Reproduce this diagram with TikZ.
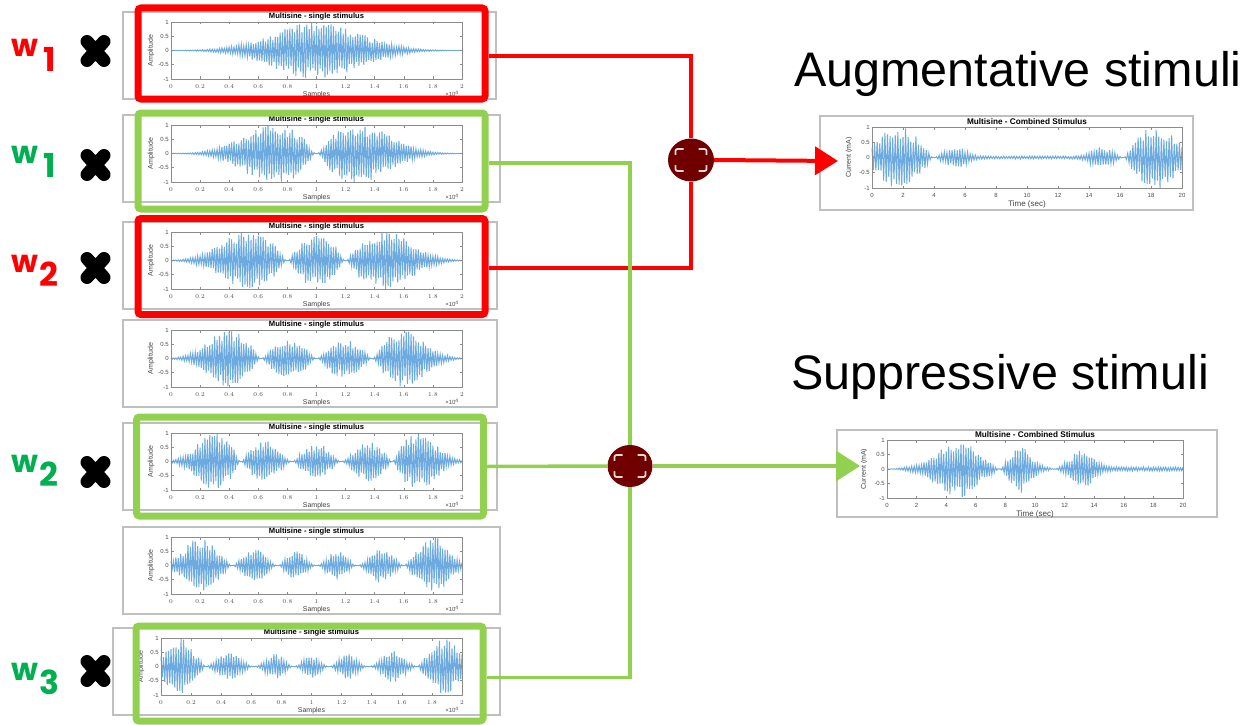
\documentclass[tikz,border=0pt]{standalone}
\usepackage{fontspec}
\setmainfont{Liberation Sans}
\newfontfamily\wfont{Poppins}
\usetikzlibrary{shapes.geometric, arrows.meta}

\begin{document}
\begin{tikzpicture}
	[x=1pt, y=-1pt,
	%Styles
	declare function={bump(\t,\c,\s)=exp(-min(((\t/120-\c)/\s)^2,12));
		notch(\t,\c,\s)=1-bump(\t,\c,\s);
		jitter(\t)=(0.6+0.4*rnd)*cos(180*mod(\t,2));},
	figure frame/.style={draw=black!25, line width=1.1pt},
	axes box/.style={draw=black!45, line width=0.6pt},
	signal/.style={draw=signalcolor, line width=1pt},
	tick label/.style={font=\fontsize{6}{6}\selectfont, text=black!70, inner sep=0.5pt},
	axis label/.style={font=\fontsize{7}{7}\selectfont, text=black!75, inner sep=0pt},
	plot title/.style={font=\fontsize{7.6}{7.6}\selectfont\bfseries, inner sep=0pt},
	red box/.style={draw=boxred, line width=7pt, rounded corners=3pt, minimum width=347pt, inner sep=0pt},
	green box/.style={draw=boxgreen, line width=7pt, rounded corners=3pt, minimum width=347pt, inner sep=0pt},
	red wire/.style={draw=boxred, line width=4pt},
	green wire/.style={draw=boxgreen, line width=3.5pt},
	sum node/.style={ellipse, fill=sumcolor, minimum width=46pt, minimum height=43pt, inner sep=0pt},
	weight/.style={font=\wfont\bfseries\fontsize{31}{31}\selectfont, inner sep=0pt, anchor=base west},
	times mark/.style={line width=13pt, line cap=round},
	heading/.style={font=\fontsize{48.5}{48.5}\selectfont, inner sep=0pt, anchor=base west}
	]
	
	%Colors
	\definecolor{boxred}{RGB}{255,0,0}
	\definecolor{boxgreen}{RGB}{146,208,80}
	\definecolor{textgreen}{RGB}{0,176,80}
	\definecolor{sumcolor}{RGB}{112,0,0}
	\definecolor{signalcolor}{RGB}{108,170,223}
	
	\useasboundingbox (0,0) rectangle (1253,725);
	\pgfmathsetseed{7}
	
	%Single stimulus plots (\x is the sample index, 120 samples per unit)
	\foreach \ftop/\fleft/\fright/\env in {
		12/123/496/{bump(\x,1,0.42)},
		115/123/500/{(bump(\x,0.7,0.3)+bump(\x,1.3,0.3))*notch(\x,1,0.08)},
		222/123/497/{(bump(\x,0.52,0.25)+0.85*bump(\x,1,0.2)+bump(\x,1.48,0.25))*notch(\x,0.8,0.06)*notch(\x,1.2,0.06)},
		320/123/497/{(bump(\x,0.4,0.2)+0.65*bump(\x,0.82,0.15)+0.65*bump(\x,1.18,0.15)+bump(\x,1.6,0.2))*notch(\x,0.62,0.05)*notch(\x,1,0.05)*notch(\x,1.38,0.05)},
		423/123/497/{(bump(\x,0.3,0.17)+0.7*bump(\x,0.65,0.12)+0.65*bump(\x,1,0.12)+0.7*bump(\x,1.35,0.12)+bump(\x,1.7,0.17))*notch(\x,0.48,0.04)*notch(\x,0.83,0.04)*notch(\x,1.17,0.04)*notch(\x,1.52,0.04)},
		527/123/500/{(bump(\x,0.2,0.15)+0.6*bump(\x,0.58,0.1)+0.5*bump(\x,0.86,0.09)+0.5*bump(\x,1.14,0.09)+0.6*bump(\x,1.44,0.1)+bump(\x,1.8,0.15))*notch(\x,0.42,0.035)*notch(\x,0.73,0.035)*notch(\x,1,0.035)*notch(\x,1.28,0.035)*notch(\x,1.6,0.035)},
		628/113/500/{(bump(\x,0.12,0.13)+0.55*bump(\x,0.46,0.09)+0.45*bump(\x,0.76,0.08)+0.4*bump(\x,1,0.07)+0.45*bump(\x,1.24,0.08)+0.55*bump(\x,1.54,0.09)+bump(\x,1.88,0.13))*notch(\x,0.3,0.03)*notch(\x,0.62,0.03)*notch(\x,0.88,0.03)*notch(\x,1.12,0.03)*notch(\x,1.38,0.03)*notch(\x,1.7,0.03)}}
	{
		\pgfmathsetmacro{\axl}{\fleft+48}
		\pgfmathsetmacro{\axw}{(462-\axl)/2}
		\pgfmathsetmacro{\axm}{\ftop+38.5}
		\draw[figure frame] (\fleft,\ftop) rectangle (\fright,\ftop+87);
		\draw[signal] plot[domain=0:240, samples=241] ({\axl+\x/120*\axw}, {\axm-28.5*min(1,\env)*jitter(\x)});
		\draw[axes box] (\axl,\ftop+10) rectangle (462,\ftop+67);
		\foreach \i in {0,...,10} {
			\pgfmathsetmacro{\tx}{\axl+\i*\axw/5}
			\pgfmathsetmacro{\tl}{\i/5}
			\draw[axes box] (\tx,\ftop+67) -- ++(0,-2.5) (\tx,\ftop+10) -- ++(0,2.5);
			\node[tick label] at (\tx,\ftop+75) {\pgfmathprintnumber{\tl}};
		}
		\foreach \v in {1,0.5,0,-0.5,-1} {
			\draw[axes box] (\axl,\axm-28.5*\v) -- ++(2.5,0) (462,\axm-28.5*\v) -- ++(-2.5,0);
			\node[tick label, anchor=east] at (\axl-1.5,\axm-28.5*\v) {\v};
		}
		\node[plot title] at ({(\axl+462)/2},\ftop+5) {Multisine - single stimulus};
		\node[axis label] at ({(\axl+462)/2},\ftop+83) {Samples};
		\node[axis label, rotate=90] at (\fleft+28,\axm) {Amplitude};
		\node[tick label] at (452,\ftop+82) {×10\textsuperscript{4}};
	}
	
	%Combined stimulus plots
	\foreach \ftop/\fbot/\fleft/\fright/\axl/\axr/\axt/\axb/\env in {
		116/210/820/1193/872/1182/127/188/{(bump(\x,0.17,0.17)+0.3*bump(\x,0.55,0.08)+0.05+0.28*bump(\x,1.47,0.08)+bump(\x,1.83,0.17))*notch(\x,0.4,0.04)*notch(\x,1.62,0.04)},
		430/517/837/1217/887/1183/440/498/{(bump(\x,0.47,0.17)+0.75*bump(\x,0.9,0.09)+0.6*bump(\x,1.32,0.1)+0.07)*notch(\x,0.76,0.035)*notch(\x,1.13,0.035)*notch(\x,0.02,0.08)}}
	{
		\pgfmathsetmacro{\axw}{(\axr-\axl)/2}
		\pgfmathsetmacro{\axh}{(\axb-\axt)/2}
		\pgfmathsetmacro{\axm}{(\axb+\axt)/2}
		\draw[figure frame] (\fleft,\ftop) rectangle (\fright,\fbot);
		\draw[signal] plot[domain=0:240, samples=241] ({\axl+\x/120*\axw}, {\axm-\axh*min(1,\env)*jitter(\x)});
		\draw[axes box] (\axl,\axt) rectangle (\axr,\axb);
		\foreach \i in {0,...,10} {
			\pgfmathsetmacro{\tx}{\axl+\i*\axw/5}
			\pgfmathtruncatemacro{\tl}{\i*2}
			\draw[axes box] (\tx,\axb) -- ++(0,-2.5) (\tx,\axt) -- ++(0,2.5);
			\node[tick label] at (\tx,\axb+7) {\tl};
		}
		\foreach \v in {1,0.5,0,-0.5,-1} {
			\draw[axes box] (\axl,\axm-\axh*\v) -- ++(2.5,0) (\axr,\axm-\axh*\v) -- ++(-2.5,0);
			\node[tick label, anchor=east] at (\axl-1.5,\axm-\axh*\v) {\v};
		}
		\node[plot title, font=\fontsize{8.2}{8.2}\selectfont\bfseries] at ({(\axl+\axr)/2},\axt-5) {Multisine - Combined Stimulus};
		\node[axis label, font=\fontsize{8}{8}\selectfont] at ({(\axl+\axr)/2},\axb+16) {Time (sec)};
		\node[axis label, rotate=90] at (\axl-23,\axm) {Current (mA)};
	}
	
	%Selected stimuli
	\node[red box, minimum height=91pt] (stim1) at (311.5,53.5) {};
	\node[green box, minimum height=96pt] (stim2) at (311.5,161) {};
	\node[red box, minimum height=96pt] (stim3) at (311.5,266.5) {};
	\node[green box, minimum height=99pt] (stim5) at (310,466.5) {};
	\node[green box, minimum height=95pt] (stim7) at (309.5,673.5) {};
	
	%Weights
	\node[weight, text=boxred] (wRed1) at (11,57) {w\hspace{5pt}\raisebox{-14pt}{\fontsize{33}{33}\selectfont 1}};
	\node[weight, text=textgreen] (wGreen1) at (11,163) {w\hspace{5pt}\raisebox{-14pt}{\fontsize{33}{33}\selectfont 1}};
	\node[weight, text=boxred] (wRed2) at (11,272) {w\hspace{1pt}\raisebox{-14pt}{\fontsize{33}{33}\selectfont 2}};
	\node[weight, text=textgreen] (wGreen2) at (11,472) {w\hspace{1pt}\raisebox{-14pt}{\fontsize{33}{33}\selectfont 2}};
	\node[weight, text=textgreen] (wGreen3) at (11,680) {w\hspace{1pt}\raisebox{-14pt}{\fontsize{33}{33}\selectfont 3}};
	\foreach \cy in {51,165,268,472,671}
		\draw[times mark] (87,\cy-9.5) -- (104,\cy+9.5) (87,\cy+9.5) -- (104,\cy-9.5);
	
	%Summing junctions
	\node[sum node] (sumA) at (691,160) {};
	\node[sum node, minimum width=45pt, minimum height=42pt] (sumS) at (630,466) {};
	\foreach \s in {sumA,sumS} {
		\draw[white!85!sumcolor, line width=1.8pt, rounded corners=2pt] ([shift={(-15.5,-11)}]\s.center) rectangle ([shift={(15.5,11)}]\s.center);
		\fill[sumcolor] ([shift={(-7.5,-13)}]\s.center) rectangle ([shift={(7.5,13)}]\s.center)
			([shift={(-17.5,-5)}]\s.center) rectangle ([shift={(17.5,5)}]\s.center);
	}
	
	\coordinate (augIn) at (838,161);
	\coordinate (supIn) at (860,466);
	
	\draw[red wire] ([yshift=-3pt]stim1.east) -| (sumA.north);
	\draw[red wire] ([yshift=-1pt]stim3.east) -| (sumA.south);
	\draw[red wire, -{Triangle[length=23pt, width=28pt]}] (sumA.east) -- (augIn);
	\draw[green wire] ([yshift=-2pt]stim2.east) -| (sumS.north);
	\draw[green wire] (stim5.east) -- (sumS.west);
	\draw[green wire] ([yshift=-4pt]stim7.east) -| (sumS.south);
	\draw[green wire, -{Triangle[length=24pt, width=30pt]}] (sumS.east) -- (supIn);
	
	%Headings
	\node[heading] (augTitle) at (794,86) {Augmentative stimuli};
	\node[heading] (supTitle) at (791,389) {Suppressive stimuli};
	
\end{tikzpicture}
\end{document}
